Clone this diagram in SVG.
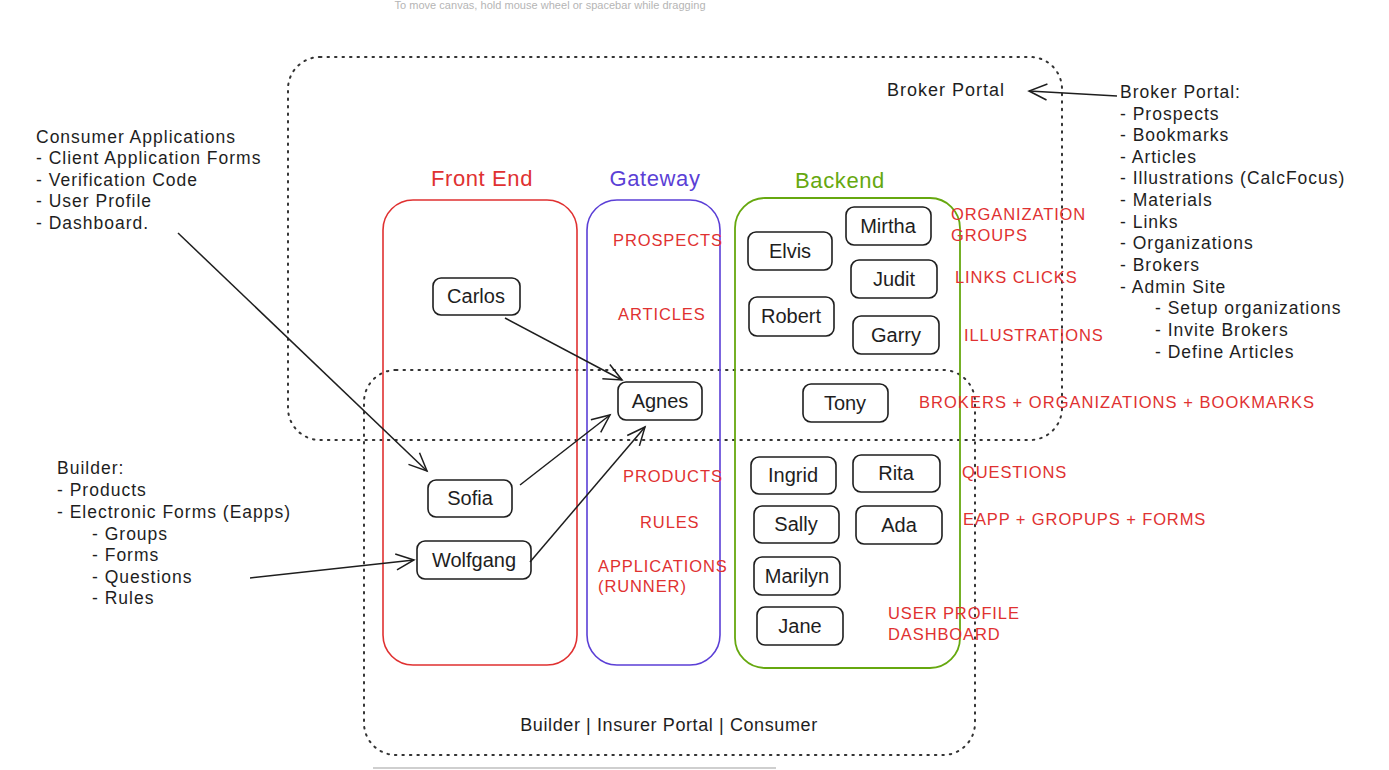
<svg xmlns="http://www.w3.org/2000/svg" width="1389" height="770" viewBox="0 0 1389 770">
<defs>
<style>
.t{font-family:"Liberation Sans",Arial,sans-serif;fill:#1e1e1e;dominant-baseline:central}
.lst{font-size:17.5px;letter-spacing:1px}
.red{font-family:"Liberation Sans",Arial,sans-serif;fill:#e03131;font-size:16.5px;letter-spacing:0.9px;dominant-baseline:central}
.nd rect{fill:#fff;stroke:#1e1e1e;stroke-width:1.6}
.nd text{font-family:"Liberation Sans",Arial,sans-serif;font-size:20px;fill:#1e1e1e;text-anchor:middle;dominant-baseline:central}
.ttl{font-family:"Liberation Sans",Arial,sans-serif;font-size:22px;letter-spacing:0.6px;text-anchor:middle;dominant-baseline:central}
.dot{fill:none;stroke:#333;stroke-width:2;stroke-dasharray:1.5 6;stroke-linecap:round}
.cn{fill:none;stroke:#1e1e1e;stroke-width:1.5}
</style>
<marker id="ah" markerUnits="userSpaceOnUse" markerWidth="30" markerHeight="30" refX="20" refY="10" orient="auto" viewBox="0 0 30 20">
<path d="M2,2 L20,10 L2,18" fill="none" stroke="#1e1e1e" stroke-width="1.5"/>
</marker>
</defs>
<rect width="1389" height="770" fill="#fff"/>
<text x="550" y="5" font-family="Liberation Sans,Arial,sans-serif" font-size="11" fill="#b5b5b5" text-anchor="middle" textLength="311" dominant-baseline="central">To move canvas, hold mouse wheel or spacebar while dragging</text>
<line x1="373" y1="768" x2="776" y2="768" stroke="#cfcfcf" stroke-width="2"/>

<g id="broker-portal-area">
<rect class="dot" x="288" y="57" width="774" height="383" rx="32"/>
<text class="t" x="887" y="90" font-size="18" letter-spacing="1">Broker Portal</text>
</g>
<g id="builder-area">
<rect class="dot" x="364" y="370" width="611" height="385" rx="32"/>
<text class="t" x="669" y="725" font-size="18" letter-spacing="0.6" text-anchor="middle">Builder | Insurer Portal | Consumer</text>
</g>

<g id="front-end">
<rect x="383" y="200" width="194" height="465" rx="30" fill="none" stroke="#e03131" stroke-width="1.6"/>
<text class="ttl" x="482" y="178" fill="#e03131">Front End</text>
</g>
<g id="gateway">
<rect x="587" y="200" width="133" height="465" rx="30" fill="none" stroke="#5b3fd6" stroke-width="1.6"/>
<text class="ttl" x="655" y="178" fill="#5b3fd6">Gateway</text>
<text class="red" x="613" y="240">PROSPECTS</text>
<text class="red" x="618" y="314">ARTICLES</text>
<text class="red" x="623" y="476">PRODUCTS</text>
<text class="red" x="640" y="522">RULES</text>
<text class="red" x="598" y="566">APPLICATIONS</text>
<text class="red" x="598" y="586">(RUNNER)</text>
</g>
<g id="backend">
<rect x="735" y="198" width="225" height="470" rx="30" fill="none" stroke="#66a80f" stroke-width="1.8"/>
<text class="ttl" x="840" y="180" fill="#66a80f">Backend</text>
</g>

<g id="backend-labels">
<text class="red" x="951" y="214">ORGANIZATION</text>
<text class="red" x="951" y="235">GROUPS</text>
<text class="red" x="955" y="277">LINKS CLICKS</text>
<text class="red" x="964" y="335" letter-spacing="1.6">ILLUSTRATIONS</text>
<text class="red" x="919" y="402" textLength="396">BROKERS + ORGANIZATIONS + BOOKMARKS</text>
<text class="red" x="962" y="472">QUESTIONS</text>
<text class="red" x="963" y="519">EAPP + GROPUPS + FORMS</text>
<text class="red" x="888" y="613">USER PROFILE</text>
<text class="red" x="888" y="634">DASHBOARD</text>
</g>

<g id="node-carlos" class="nd"><rect x="433" y="278" width="87" height="37" rx="8"/><text x="476" y="296">Carlos</text></g>
<g id="node-agnes" class="nd"><rect x="618" y="382" width="84" height="38" rx="8"/><text x="660" y="401">Agnes</text></g>
<g id="node-sofia" class="nd"><rect x="428" y="480" width="84" height="37" rx="8"/><text x="470" y="498">Sofia</text></g>
<g id="node-wolfgang" class="nd"><rect x="417" y="541" width="114" height="38" rx="8"/><text x="474" y="560">Wolfgang</text></g>
<g id="node-elvis" class="nd"><rect x="748" y="232" width="84" height="38" rx="8"/><text x="790" y="251">Elvis</text></g>
<g id="node-mirtha" class="nd"><rect x="846" y="207" width="85" height="38" rx="8"/><text x="888" y="226">Mirtha</text></g>
<g id="node-judit" class="nd"><rect x="851" y="260" width="86" height="38" rx="8"/><text x="894" y="279">Judit</text></g>
<g id="node-robert" class="nd"><rect x="749" y="297" width="85" height="39" rx="8"/><text x="791" y="316">Robert</text></g>
<g id="node-garry" class="nd"><rect x="853" y="316" width="86" height="38" rx="8"/><text x="896" y="335">Garry</text></g>
<g id="node-tony" class="nd"><rect x="803" y="384" width="85" height="38" rx="8"/><text x="845" y="403">Tony</text></g>
<g id="node-ingrid" class="nd"><rect x="751" y="457" width="85" height="37" rx="8"/><text x="793" y="475">Ingrid</text></g>
<g id="node-rita" class="nd"><rect x="853" y="455" width="87" height="37" rx="8"/><text x="896" y="473">Rita</text></g>
<g id="node-sally" class="nd"><rect x="754" y="506" width="85" height="37" rx="8"/><text x="796" y="524">Sally</text></g>
<g id="node-ada" class="nd"><rect x="856" y="506" width="86" height="38" rx="8"/><text x="899" y="525">Ada</text></g>
<g id="node-marilyn" class="nd"><rect x="754" y="557" width="86" height="38" rx="8"/><text x="797" y="576">Marilyn</text></g>
<g id="node-jane" class="nd"><rect x="757" y="607" width="86" height="38" rx="8"/><text x="800" y="626">Jane</text></g>

<g id="consumer-notes">
<text class="t lst" x="36" y="137">Consumer Applications</text>
<text class="t lst" x="36" y="158">- Client Application Forms</text>
<text class="t lst" x="36" y="180">- Verification Code</text>
<text class="t lst" x="36" y="201">- User Profile</text>
<text class="t lst" x="36" y="223">- Dashboard.</text>
</g>
<g id="builder-notes">
<text class="t lst" x="57" y="468">Builder:</text>
<text class="t lst" x="57" y="490">- Products</text>
<text class="t lst" x="57" y="512">- Electronic Forms (Eapps)</text>
<text class="t lst" x="92" y="534">- Groups</text>
<text class="t lst" x="92" y="555">- Forms</text>
<text class="t lst" x="92" y="577">- Questions</text>
<text class="t lst" x="92" y="598">- Rules</text>
</g>
<g id="broker-notes">
<text class="t lst" x="1120" y="92">Broker Portal:</text>
<text class="t lst" x="1120" y="114">- Prospects</text>
<text class="t lst" x="1120" y="135">- Bookmarks</text>
<text class="t lst" x="1120" y="157">- Articles</text>
<text class="t lst" x="1120" y="178">- Illustrations (CalcFocus)</text>
<text class="t lst" x="1120" y="200">- Materials</text>
<text class="t lst" x="1120" y="222">- Links</text>
<text class="t lst" x="1120" y="243">- Organizations</text>
<text class="t lst" x="1120" y="265">- Brokers</text>
<text class="t lst" x="1120" y="287">- Admin Site</text>
<text class="t lst" x="1155" y="308">- Setup organizations</text>
<text class="t lst" x="1155" y="330">- Invite Brokers</text>
<text class="t lst" x="1155" y="352">- Define Articles</text>
</g>

<g id="connectors">
<line class="cn" x1="178" y1="233" x2="427" y2="471" marker-end="url(#ah)"/>
<line class="cn" x1="505" y1="318" x2="622" y2="380" marker-end="url(#ah)"/>
<line class="cn" x1="520" y1="485" x2="610" y2="415" marker-end="url(#ah)"/>
<line class="cn" x1="530" y1="562" x2="645" y2="427" marker-end="url(#ah)"/>
<line class="cn" x1="250" y1="578" x2="414" y2="560" marker-end="url(#ah)"/>
<line class="cn" x1="1117" y1="96" x2="1029" y2="91" marker-end="url(#ah)"/>
</g>
</svg>
